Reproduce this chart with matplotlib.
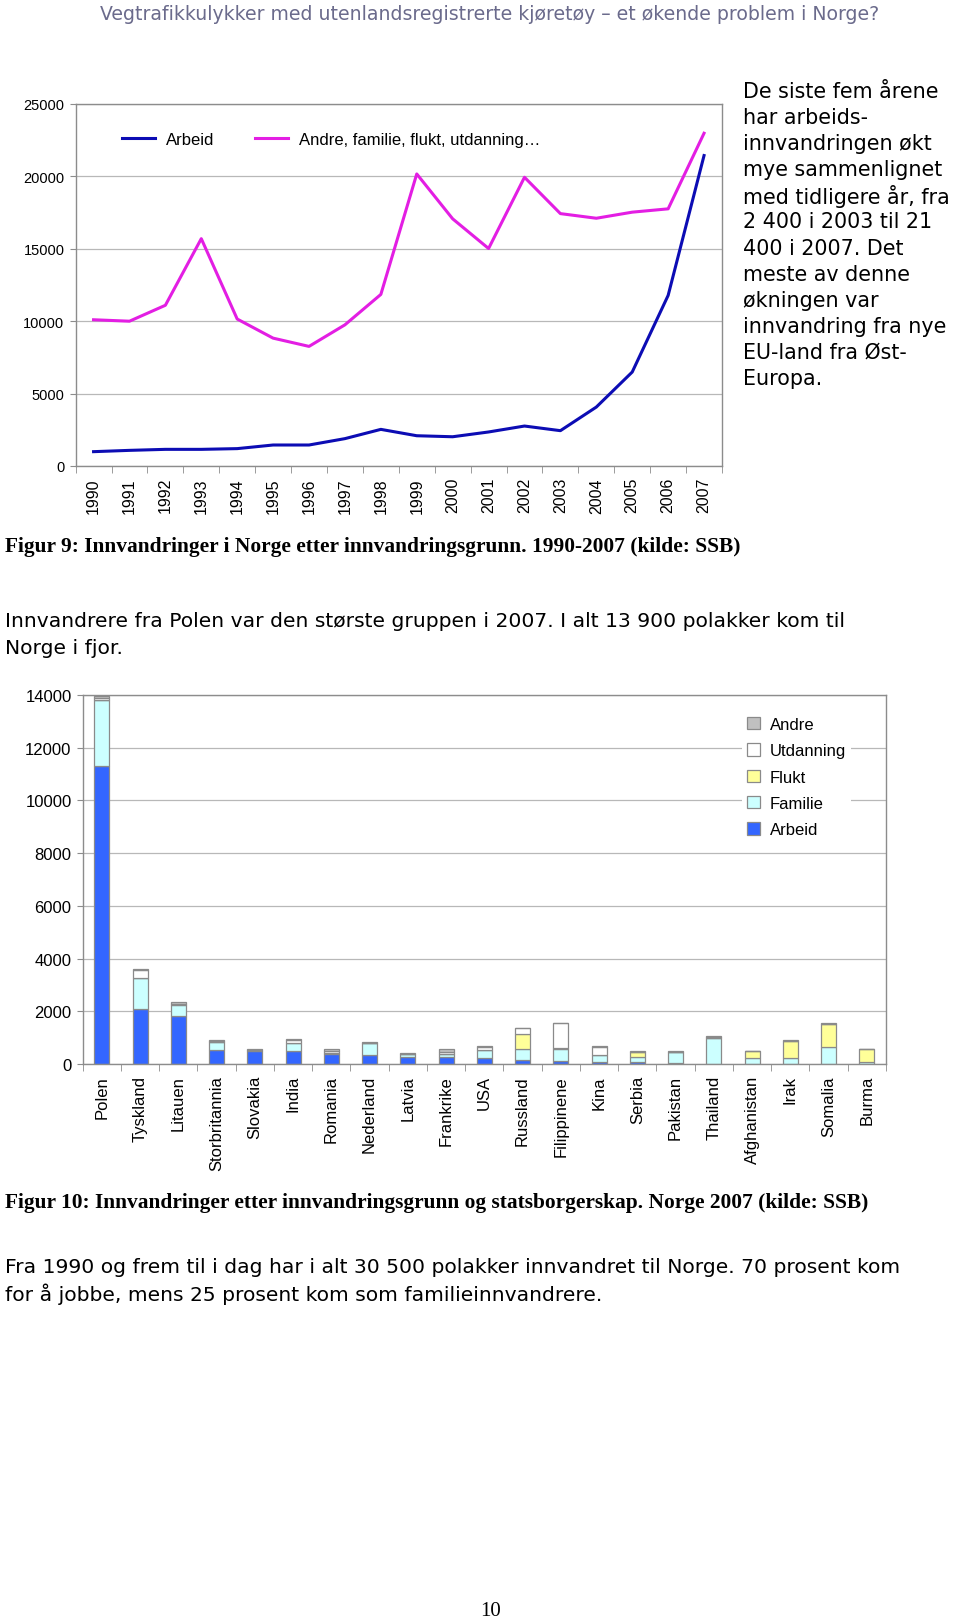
import numpy as np
import matplotlib
matplotlib.use("Agg")
import matplotlib.pyplot as plt
from matplotlib.patches import Patch

W, H = 960, 1624

# --- figure 9: line chart data ---
years = [str(y) for y in range(1990, 2008)]
arbeid_line = [990, 1080, 1150, 1150, 1200, 1450, 1450, 1890, 2530, 2090,
               2020, 2350, 2760, 2440, 4070, 6490, 11780, 21440]
andre_line = [10100, 10000, 11100, 15700, 10150, 8830, 8260, 9750, 11850, 20170,
              17070, 15020, 19940, 17430, 17110, 17530, 17760, 22980]

# --- figure 10: stacked bars data ---
countries = ["Polen", "Tyskland", "Litauen", "Storbritannia", "Slovakia", "India",
             "Romania", "Nederland", "Latvia", "Frankrike", "USA", "Russland",
             "Filippinene", "Kina", "Serbia", "Pakistan", "Thailand", "Afghanistan",
             "Irak", "Somalia", "Burma"]
arbeid = [11300, 2080, 1830, 530, 500, 480, 370, 360, 280, 280, 230, 140, 100, 90, 60, 40, 10, 5, 5, 5, 5]
familie = [2500, 1180, 420, 290, 20, 330, 60, 420, 90, 90, 290, 430, 480, 250, 190, 400, 960, 220, 220, 630, 60]
flukt = [10, 10, 10, 0, 0, 0, 0, 0, 0, 0, 0, 580, 10, 10, 210, 0, 0, 250, 650, 890, 510]
utdanning = [70, 300, 20, 40, 0, 90, 50, 0, 20, 90, 130, 200, 950, 300, 0, 10, 50, 0, 0, 0, 0]
andre = [90, 20, 60, 40, 40, 50, 90, 40, 40, 100, 30, 30, 20, 20, 30, 50, 40, 20, 20, 20, 10]

header = "Vegtrafikkulykker med utenlandsregistrerte kjøretøy – et økende problem i Norge?"
side_lines = ["De siste fem årene", "har arbeids-", "innvandringen økt", "mye sammenlignet",
              "med tidligere år, fra", "2 400 i 2003 til 21", "400 i 2007. Det",
              "meste av denne", "økningen var", "innvandring fra nye",
              "EU-land fra Øst-", "Europa."]
cap9 = "Figur 9: Innvandringer i Norge etter innvandringsgrunn. 1990-2007 (kilde: SSB)"
para1 = ["Innvandrere fra Polen var den største gruppen i 2007. I alt 13 900 polakker kom til",
         "Norge i fjor."]
cap10 = "Figur 10: Innvandringer etter innvandringsgrunn og statsborgerskap. Norge 2007 (kilde: SSB)"
para2 = ["Fra 1990 og frem til i dag har i alt 30 500 polakker innvandret til Norge. 70 prosent kom",
         "for å jobbe, mens 25 prosent kom som familieinnvandrere."]
page_no = "10"

GRID = "#b8b8b8"
SPINE = "#8c8c8c"


def box(x0, y0, x1, y1):
    return [x0 / W, 1 - y1 / H, (x1 - x0) / W, (y1 - y0) / H]


def fx(x):
    return x / W


def fy(y):
    return 1 - y / H


def style_axes(ax, n, fs_y, fs_x):
    for s in ax.spines.values():
        s.set_color(SPINE)
        s.set_linewidth(1.0)
    ax.set_axisbelow(True)
    ax.yaxis.grid(True, color=GRID, lw=0.9)
    ax.set_xlim(-0.5, n - 0.5)
    ax.set_xticks(np.arange(-0.5, n), minor=True)
    ax.tick_params(axis="x", which="major", length=0, pad=8)
    ax.tick_params(axis="x", which="minor", length=5, color=SPINE, direction="out")
    ax.tick_params(axis="y", length=4, color=SPINE, pad=4, labelsize=fs_y)
    ax.tick_params(axis="x", labelsize=fs_x)


plt.rcParams["font.family"] = ["Liberation Sans", "DejaVu Sans"]

fig = plt.figure(figsize=(W / 100, H / 100), dpi=100)

# header
fig.text(fx(490), fy(15), header, ha="center", va="center", fontsize=13.6,
         family="DejaVu Sans", color="#6b6b8c")

# ---------------- figure 9 ----------------
ax1 = fig.add_axes(box(75.6, 105, 722, 467))
x = np.arange(len(years))
ax1.plot(x, arbeid_line, color="#0c0cb4", lw=2.2, label="Arbeid")
ax1.plot(x, andre_line, color="#e31ee3", lw=2.2, label="Andre, familie, flukt, utdanning…")
ax1.set_ylim(0, 25000)
ax1.set_yticks(range(0, 25001, 5000))
ax1.set_xticks(x)
ax1.set_xticklabels(years, rotation=90)
style_axes(ax1, len(years), 10.5, 11.5)
ax1.legend(loc="upper left", bbox_to_anchor=(fx(122), fy(133)), bbox_transform=fig.transFigure,
           ncol=2, frameon=False, fontsize=12, handlelength=2.0, handletextpad=0.65,
           columnspacing=2.4, borderpad=0, borderaxespad=0)

for i, line in enumerate(side_lines):
    fig.text(fx(743), fy(92 + i * 26.1), line, ha="left", va="center",
             fontsize=14.9, family="DejaVu Sans", color="black")

fig.text(fx(5), fy(547), cap9, ha="left", va="center", fontsize=15.4,
         family="Liberation Serif", weight="bold")

for i, line in enumerate(para1):
    fig.text(fx(5), fy(622 + i * 27), line, ha="left", va="center",
             fontsize=14.6, family="DejaVu Sans")

# ---------------- figure 10 ----------------
ax2 = fig.add_axes(box(82.7, 696, 886, 1065))
xb = np.arange(len(countries))
series = [("Arbeid", arbeid, "#3366ff"), ("Familie", familie, "#ccffff"),
          ("Flukt", flukt, "#ffff99"), ("Utdanning", utdanning, "#ffffff"),
          ("Andre", andre, "#c0c0c0")]
bottom = np.zeros(len(countries))
handles = []
for name, vals, col in series:
    ax2.bar(xb, vals, bottom=bottom, width=0.39, color=col, edgecolor="#8a8a8a", lw=0.9)
    bottom += np.array(vals)
    handles.append(Patch(facecolor=col, edgecolor="#8a8a8a", lw=0.9, label=name))
ax2.set_ylim(0, 14000)
ax2.set_yticks(range(0, 14001, 2000))
ax2.set_xticks(xb)
ax2.set_xticklabels(countries, rotation=90)
style_axes(ax2, len(countries), 12, 12)
leg = ax2.legend(handles=handles[::-1], loc="upper left", bbox_to_anchor=(fx(742), fy(713)),
                 bbox_transform=fig.transFigure, frameon=True, fontsize=12,
                 handlelength=0.75, handleheight=0.75, handletextpad=0.6,
                 labelspacing=0.68, borderpad=0.3, borderaxespad=0)
leg.get_frame().set_facecolor("white")
leg.get_frame().set_edgecolor("none")
leg.get_frame().set_alpha(1)

fig.text(fx(5), fy(1203), cap10, ha="left", va="center", fontsize=15.4,
         family="Liberation Serif", weight="bold")

for i, line in enumerate(para2):
    fig.text(fx(5), fy(1268 + i * 26.5), line, ha="left", va="center",
             fontsize=14.6, family="DejaVu Sans")

fig.text(fx(491), fy(1612), page_no, ha="center", va="center", fontsize=15,
         family="Liberation Serif")

fig.savefig("out.png", dpi=100)
